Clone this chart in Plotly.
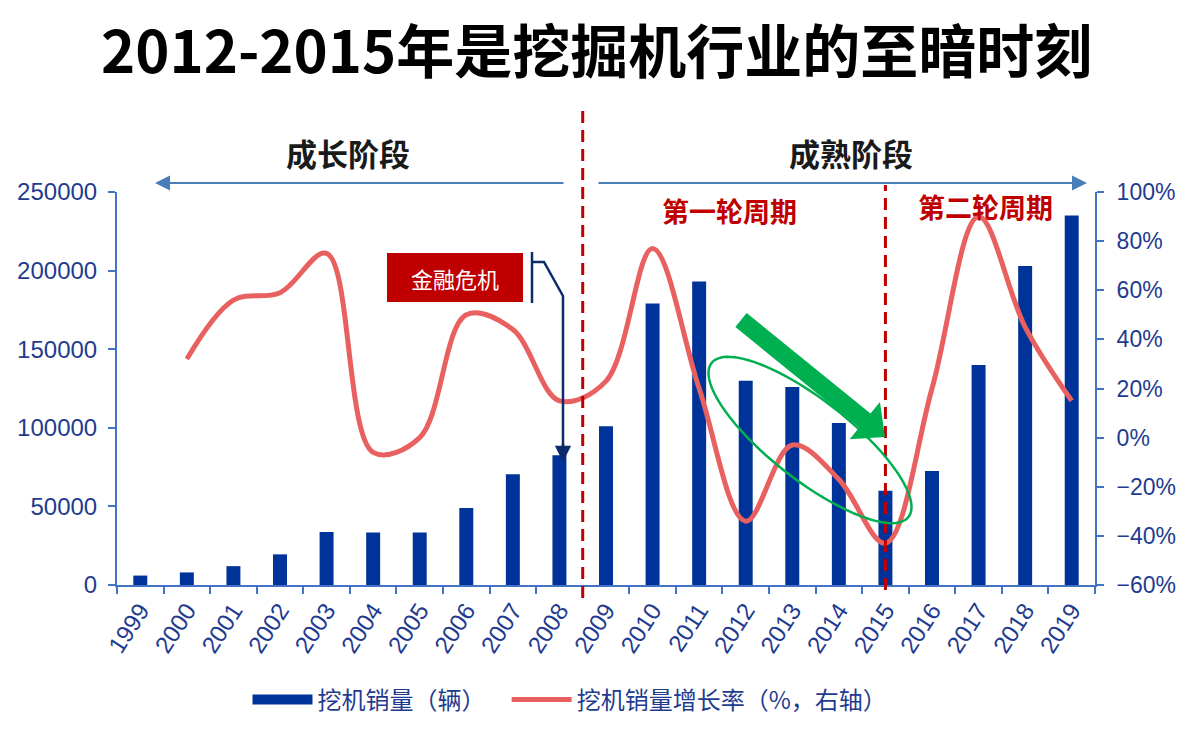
import numpy as np
import plotly.graph_objects as go

years = [str(y) for y in range(1999, 2020)]
sales = [6000, 8000, 12000, 19500, 33700, 33400, 33400, 49000, 70500, 82500,
         101000, 179000, 193000, 130000, 126000, 103000, 60000, 72500, 140000, 203000, 235000]
growth_years = [str(y) for y in range(2000, 2020)]
growth = [32, 56, 59, 75, -6, 0, 50, 44, 15, 23, 77, 20, -34, -3, -17, -43, 20, 90, 45, 15]

W, H = 1197, 734
L, R, T, B = 117, 1095, 192, 585
CJK = "Noto Sans CJK SC"
NAVY = "#1F3B8F"
AX = "#4472C4"
BAR = "#003399"


def px(x):
    return (x - L) / (R - L)


def py(y):
    return (B - y) / (B - T)


fig = go.Figure()
fig.add_trace(go.Bar(x=years, y=sales, name="挖机销量（辆）", marker_color=BAR,
                     marker_line_width=0, showlegend=False))
# legend entry with a wide swatch for the bar series
fig.add_trace(go.Scatter(x=[None], y=[None], name="挖机销量（辆）   ", mode="lines",
                         line=dict(color=BAR, width=15)))
fig.add_trace(go.Scatter(x=growth_years, y=growth, name="挖机销量增长率（%，右轴）", yaxis="y2",
                         mode="lines", line=dict(color="#E8605F", width=5, shape="spline", smoothing=1.0)))

shapes = []
annotations = []

# dashed separators
shapes.append(dict(type="line", xref="x", yref="paper", x0=9.5, x1=9.5, y0=py(598), y1=py(105),
                   line=dict(color="#C00000", width=3, dash="12px,7px")))
shapes.append(dict(type="line", xref="x", yref="paper", x0=16, x1=16, y0=py(590), y1=py(185),
                   line=dict(color="#C00000", width=3, dash="12px,7px")))

# stage arrows
annotations.append(dict(xref="paper", yref="paper", x=px(155), y=py(183), ax=410, ay=0, text="",
                        showarrow=True, arrowhead=2, arrowsize=1.5, arrowwidth=2, arrowcolor="#4A7EBB"))
annotations.append(dict(xref="paper", yref="paper", x=px(1087), y=py(183), ax=-490, ay=0, text="",
                        showarrow=True, arrowhead=2, arrowsize=1.5, arrowwidth=2, arrowcolor="#4A7EBB"))


def txt(x, y, s, size, color, bold=False, family=CJK):
    annotations.append(dict(xref="paper", yref="paper", x=px(x), y=py(y), text=(f"<b>{s}</b>" if bold else s),
                            showarrow=False, xanchor="center", yanchor="middle",
                            font=dict(family=family, size=size, color=color)))


txt(596, 48, "2012-2015年是挖掘机行业的至暗时刻", 58, "#000000", bold=True)
txt(348, 153, "成长阶段", 31, "#1a1a1a", bold=True)
txt(851, 153, "成熟阶段", 31, "#1a1a1a", bold=True)
txt(729, 210, "第一轮周期", 27, "#C00000", bold=True)
txt(985, 207, "第二轮周期", 27, "#C00000", bold=True)

# 金融危机 box
shapes.append(dict(type="rect", xref="paper", yref="paper", x0=px(387), x1=px(523), y0=py(302), y1=py(253),
                   fillcolor="#C00000", line=dict(width=0)))
txt(455, 278, "金融危机", 22, "#ffffff")


def pth(pts, close=False):
    s = ""
    for seg in pts:
        s += "M" + " L".join(f"{px(a):.5f},{py(b):.5f}" for a, b in seg) + " "
    return s + ("Z" if close else "")


# bracket + pointer
shapes.append(dict(type="path", xref="paper", yref="paper",
                   path=pth([[(532, 252), (532, 303)], [(532, 262), (544, 262), (563, 296), (563, 450)]]),
                   line=dict(color="#0D2A6B", width=2.5)))
annotations.append(dict(xref="paper", yref="paper", x=px(563), y=py(462), ax=0, ay=-20, text="",
                        showarrow=True, arrowhead=2, arrowsize=1.3, arrowwidth=2.5, arrowcolor="#0D2A6B"))

# green thick arrow
S = np.array([741.0, 320.0])
Tp = np.array([885.0, 437.0])
u = (Tp - S) / np.linalg.norm(Tp - S)
n = np.array([-u[1], u[0]])
Bh = Tp - 26 * u
w, Wd = 9, 24
poly = [S + w * n, Bh + w * n, Bh + Wd * n, Tp, Bh - Wd * n, Bh - w * n, S - w * n]
shapes.append(dict(type="path", xref="paper", yref="paper",
                   path=pth([[tuple(p) for p in poly]], close=True),
                   fillcolor="#00B050", line=dict(width=0)))

# green ellipse
th = np.deg2rad(38)
t = np.linspace(0, 2 * np.pi, 80)
a, b = 125, 40
ex = 810 + a * np.cos(t) * np.cos(th) - b * np.sin(t) * np.sin(th)
ey = 440 + a * np.cos(t) * np.sin(th) + b * np.sin(t) * np.cos(th)
shapes.append(dict(type="path", xref="paper", yref="paper",
                   path=pth([list(zip(ex, ey))], close=True),
                   line=dict(color="#00B050", width=2.5)))

fig.update_layout(
    width=W, height=H,
    margin=dict(l=L, r=W - R, t=T, b=H - B, pad=0),
    paper_bgcolor="white", plot_bgcolor="white",
    bargap=0.7,
    showlegend=True,
    legend=dict(orientation="h", x=px(570), xanchor="center", y=py(700), yanchor="middle",
                font=dict(family=CJK, size=24, color=NAVY), itemwidth=60, traceorder="normal"),
    xaxis=dict(type="category", range=[-0.5, 20.5], showline=True, linecolor=AX, linewidth=2,
               ticks="outside", tickson="boundaries", ticklen=7, tickcolor=AX, tickwidth=2,
               tickangle=-57, tickfont=dict(family="Liberation Sans", size=24, color=NAVY),
               showgrid=False, zeroline=False),
    yaxis=dict(range=[0, 250000], dtick=50000, showline=True, linecolor=AX, linewidth=2,
               ticks="outside", ticklen=7, tickcolor=AX, tickwidth=2, tickformat="d",
               ticklabelstandoff=6,
               tickfont=dict(family="Liberation Sans", size=24, color=NAVY),
               showgrid=False, zeroline=False),
    yaxis2=dict(overlaying="y", side="right", range=[-60, 100], dtick=20, ticksuffix="%",
                showline=True, linecolor=AX, linewidth=2, ticks="outside", ticklen=7,
                tickcolor=AX, tickwidth=2, ticklabelstandoff=8,
                tickfont=dict(family="Liberation Sans", size=23, color=NAVY),
                showgrid=False, zeroline=False),
    shapes=shapes,
    annotations=annotations,
)

fig.write_html("out.html")
